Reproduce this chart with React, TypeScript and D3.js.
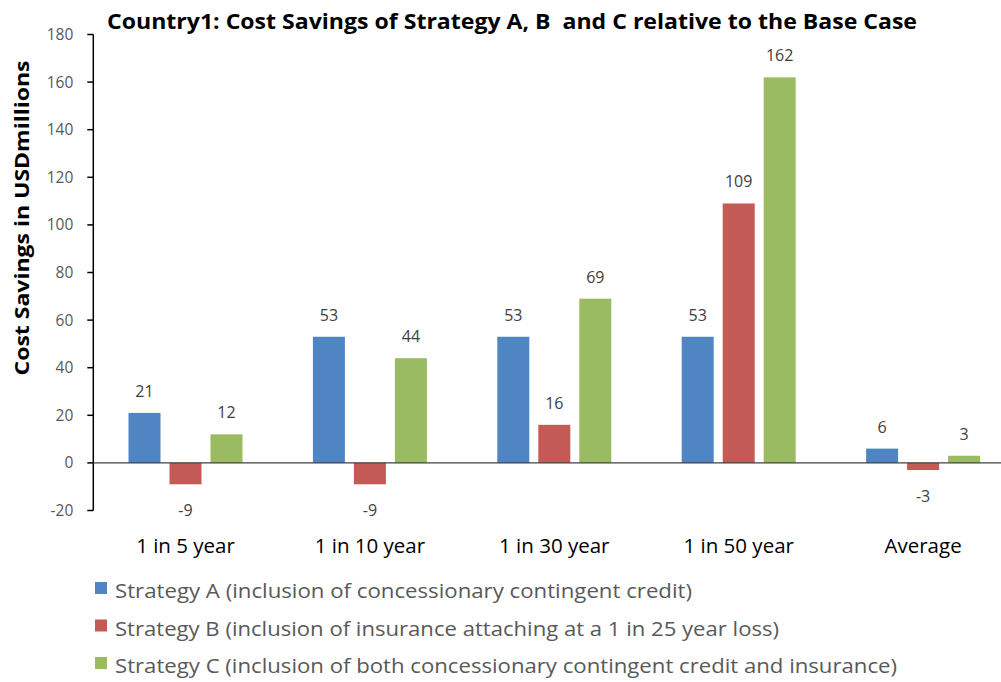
import React from "react";
import * as d3 from "d3";

const categories = ["1 in 5 year", "1 in 10 year", "1 in 30 year", "1 in 50 year", "Average"];
const seriesNames = [
  "Strategy A (inclusion of concessionary contingent credit)",
  "Strategy B (inclusion of insurance attaching at a 1 in 25 year loss)",
  "Strategy C (inclusion of both concessionary contingent credit and insurance)",
];
const strategyA = [21, 53, 53, 53, 6];
const strategyB = [-9, -9, 16, 109, -3];
const strategyC = [12, 44, 69, 162, 3];
const yTicks = [-20, 0, 20, 40, 60, 80, 100, 120, 140, 160, 180];
const colors = ["#4F85C2", "#C45A55", "#9BBB62"];
const legendWidths = [577, 664, 782];

const W = 1001;
const H = 682;
const FONT = "'Open Sans', 'Noto Sans', sans-serif";

export default function App() {
  const series = [strategyA, strategyB, strategyC];
  const x0 = 93.3;
  const x = d3.scaleBand<string>().domain(categories).range([x0, x0 + 184.4 * 5]).paddingInner(0).paddingOuter(0);
  const y = d3.scaleLinear().domain([-20, 180]).range([510.5, 34.5]);
  const barW = 32;
  const step = 41;
  return (
    <svg width={W} height={H} style={{ position: "absolute", left: 0, top: 0, background: "#fff" }} fontFamily={FONT}>
      <rect x={0} y={0} width={W} height={H} fill="#fff" />
      <text x={512} y={29} textAnchor="middle" fontSize={20.5} fontWeight="bold" fill="#000" textLength={810} lengthAdjust="spacingAndGlyphs" style={{ whiteSpace: "pre" }}>
        {"Country1: Cost Savings of Strategy A, B  and C relative to the Base Case"}
      </text>
      <text transform={`translate(29,218) rotate(-90)`} textAnchor="middle" fontSize={19} fontWeight="bold" fill="#000" textLength={315} lengthAdjust="spacingAndGlyphs">
        Cost Savings in USDmillions
      </text>
      {/* y axis */}
      <line x1={x0} x2={x0} y1={y(180)} y2={y(-20)} stroke="#000" strokeWidth={1.5} />
      {yTicks.map((t) => (
        <g key={t}>
          <line x1={x0 - 6} x2={x0} y1={y(t)} y2={y(t)} stroke="#000" strokeWidth={1.5} />
          <text x={x0 - 20} y={y(t) + 5.5} textAnchor="end" fontSize={15.5} fill="#595959">
            {t}
          </text>
        </g>
      ))}
      {/* bars */}
      {categories.map((c, i) => {
        const cx = (x(c) as number) + x.bandwidth() / 2;
        return (
          <g key={c}>
            {series.map((s, j) => {
              const v = s[i];
              const bx = cx + (j - 1) * step - barW / 2;
              const top = Math.min(y(v), y(0));
              const h = Math.abs(y(v) - y(0));
              const ly = v >= 0 ? y(v) - 16 : y(v) + 32;
              return (
                <g key={j}>
                  <rect x={bx} y={top} width={barW} height={h} fill={colors[j]} />
                  <text x={bx + barW / 2} y={ly} textAnchor="middle" fontSize={16} fill="#404040">
                    {v}
                  </text>
                </g>
              );
            })}
            <text x={cx} y={553} textAnchor="middle" fontSize={20.5} fill="#000">
              {c}
            </text>
          </g>
        );
      })}
      {/* zero line */}
      <line x1={x0} x2={W} y1={y(0)} y2={y(0)} stroke="#404040" strokeWidth={1.3} />
      {/* legend */}
      {seriesNames.map((n, j) => (
        <g key={n}>
          <rect x={95} y={582 + j * 37.5} width={12} height={12} fill={colors[j]} />
          <text x={115} y={598 + j * 37.5} fontSize={20} fill="#595959" textLength={legendWidths[j]} lengthAdjust="spacingAndGlyphs">
            {n}
          </text>
        </g>
      ))}
    </svg>
  );
}
